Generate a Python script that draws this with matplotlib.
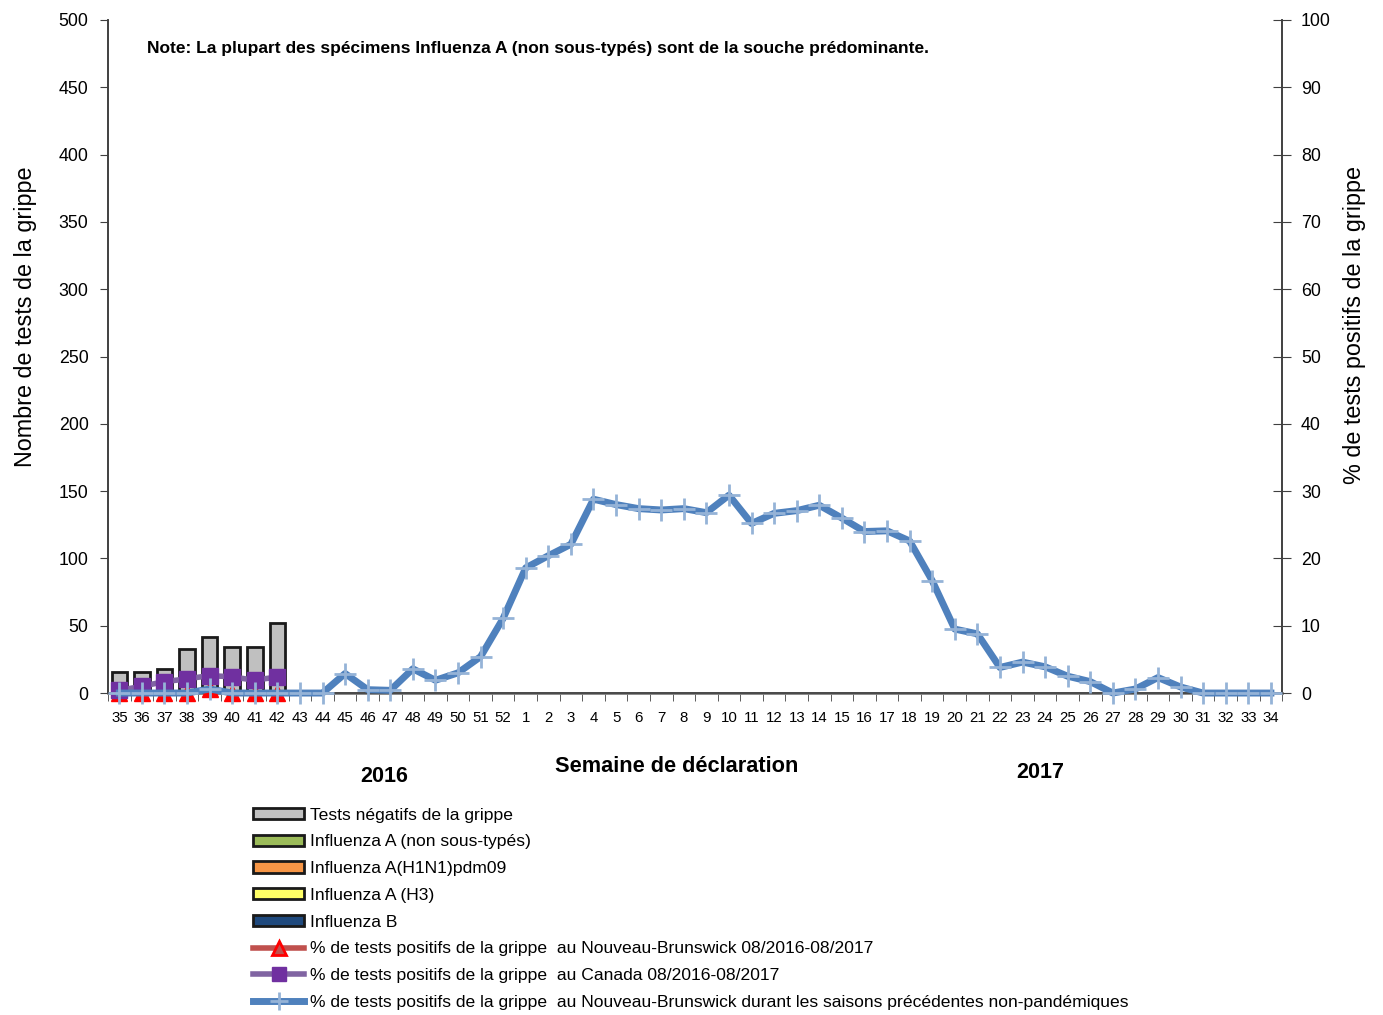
import matplotlib.pyplot as plt
import matplotlib.patches as mpatches
from matplotlib.lines import Line2D
import numpy as np

plt.rcParams['font.family'] = ['Liberation Sans', 'DejaVu Sans']

weeks = [str(w) for w in range(35, 53)] + [str(w) for w in range(1, 35)]

# nombre de tests (semaines 35-42 seulement)
negatifs = [16, 16, 18, 33, 42, 34, 34, 52]
grippe_a_nst = [0, 0, 0, 0, 0, 0, 0, 0]
h1n1 = [0, 0, 0, 0, 0, 0, 0, 0]
h3 = [0, 0, 0, 0, 0, 0, 0, 0]
grippe_b = [0, 0, 0, 0, 0, 0, 0, 0]

# pourcentages
pct_nb = [0, 0, 0, 0, 0.6, 0, 0, 0]
pct_canada = [0.4, 1.0, 1.7, 2.1, 2.6, 2.4, 1.9, 2.4]
pct_hist = [0, 0, 0, 0, 0.6, 0, 0, 0, 0, 0, 2.9, 0.5, 0.4, 3.6, 1.9, 3.0, 5.4, 11.1,
            18.6, 20.4, 22.1, 28.8, 28.0, 27.4, 27.2, 27.4, 26.8, 29.4, 25.2, 26.7,
            27.1, 27.9, 26.0, 24.0, 24.1, 22.6, 16.7, 9.5, 8.8, 3.8, 4.6, 3.9, 2.5,
            1.7, 0, 0.6, 2.3, 0.9, 0, 0, 0, 0]

fig = plt.figure(figsize=(13.83, 10.15), dpi=100)
ax = fig.add_axes([0.0781, 0.3172, 0.849, 0.6631])
ax2 = ax.twinx()

x = np.arange(len(weeks))
xb = x[:len(negatifs)]
w = 0.69
bottom = np.zeros(len(negatifs))
series = [(grippe_b, '#1F497D'), (h3, '#FFFF66'), (h1n1, '#F79646'),
          (grippe_a_nst, '#9BBB59'), (negatifs, '#C0C0C0')]
for vals, col in series:
    vals = np.array(vals)
    if vals.sum() > 0:
        ax.bar(xb, vals, w, bottom=bottom, color=col, edgecolor='#1a1a1a', linewidth=2, zorder=2)
    bottom += vals

ax.set_xlim(-0.5, len(weeks) - 0.5)
ax.set_ylim(0, 500)
ax.set_yticks(range(0, 501, 50))
ax.set_xticks(x)
ax.set_xticklabels(weeks, fontsize=10.8)
ax.set_xticks(np.arange(-0.5, len(weeks), 1), minor=True)
ax.tick_params(axis='x', which='major', length=0, pad=13)
ax.tick_params(axis='x', which='minor', length=6, color='#404040', direction='out')
ax.tick_params(axis='y', labelsize=12.8, length=6, color='#404040', direction='out', pad=8)

ax2.set_ylim(0, 100)
ax2.set_yticks(range(0, 101, 10))
ax2.tick_params(axis='y', labelsize=12.8, length=13, color='#404040', direction='inout', pad=7)

for a in (ax, ax2):
    a.spines['top'].set_visible(False)
    for s in ('left', 'right', 'bottom'):
        a.spines[s].set_color('#404040')
        a.spines[s].set_linewidth(1.2)
ax.spines['bottom'].set_color('#808080')
ax.spines['bottom'].set_linewidth(2)

ax2.plot(xb, pct_nb, color='#C0504D', lw=3, marker='^', ms=11,
         mfc='red', mec='red', zorder=3, clip_on=False)
ax2.plot(xb, pct_canada, color='#8064A2', lw=4, marker='s', ms=12,
         mfc='#7030A0', mec='#7030A0', zorder=4, clip_on=False)
ax2.plot(x, pct_hist, color='#4F81BD', lw=5, marker='+', ms=16, mew=2,
         mec='#95B3D7', zorder=5, clip_on=False)
ax.set_zorder(1)
ax2.set_zorder(2)
ax2.patch.set_visible(False)

ax.set_ylabel('Nombre de tests de la grippe', fontsize=16.8)
ax.yaxis.set_label_coords(-0.0605, 0.559)
ax2.set_ylabel('% de tests positifs de la grippe', fontsize=16.8)
ax2.yaxis.set_label_coords(1.052, 0.547)

fig.text(147 / 1383, 1 - 48 / 1015, 'Note: La plupart des spécimens Influenza A (non sous-typés) sont de la souche prédominante.',
         fontsize=12.5, fontweight='bold', va='center')
fig.text(677 / 1383, 1 - 767 / 1015, 'Semaine de déclaration', fontsize=15.7,
         fontweight='bold', ha='center', va='center')
fig.text(384 / 1383, 1 - 777 / 1015, '2016', fontsize=15.5, fontweight='bold', ha='center', va='center')
fig.text(1040 / 1383, 1 - 773 / 1015, '2017', fontsize=15.5, fontweight='bold', ha='center', va='center')

handles = [
    mpatches.Patch(facecolor='#C0C0C0', edgecolor='#1a1a1a', lw=2),
    mpatches.Patch(facecolor='#9BBB59', edgecolor='#1a1a1a', lw=2),
    mpatches.Patch(facecolor='#F79646', edgecolor='#1a1a1a', lw=2),
    mpatches.Patch(facecolor='#FFFF66', edgecolor='#1a1a1a', lw=2),
    mpatches.Patch(facecolor='#1F497D', edgecolor='#1a1a1a', lw=2),
    Line2D([], [], color='#C0504D', lw=4, marker='^', ms=10, mfc='#C0504D', mec='red', mew=2),
    Line2D([], [], color='#8064A2', lw=4, marker='s', ms=10, mfc='#7030A0', mec='#7030A0'),
    Line2D([], [], color='#4F81BD', lw=5, marker='+', ms=13, mew=2, mec='#95B3D7'),
]
labels = ['Tests négatifs de la grippe', 'Influenza A (non sous-typés)', 'Influenza A(H1N1)pdm09',
          'Influenza A (H3)', 'Influenza B',
          '% de tests positifs de la grippe  au Nouveau-Brunswick 08/2016-08/2017',
          '% de tests positifs de la grippe  au Canada 08/2016-08/2017',
          '% de tests positifs de la grippe  au Nouveau-Brunswick durant les saisons précédentes non-pandémiques']
leg = fig.legend(handles, labels, loc='upper left', bbox_to_anchor=(244 / 1383, 1 - 799 / 1015),
                 frameon=False, fontsize=12.6, handlelength=2.95, handleheight=0.6,
                 handletextpad=0.35, labelspacing=0.67, borderpad=0)

fig.savefig('out.png', dpi=100)
